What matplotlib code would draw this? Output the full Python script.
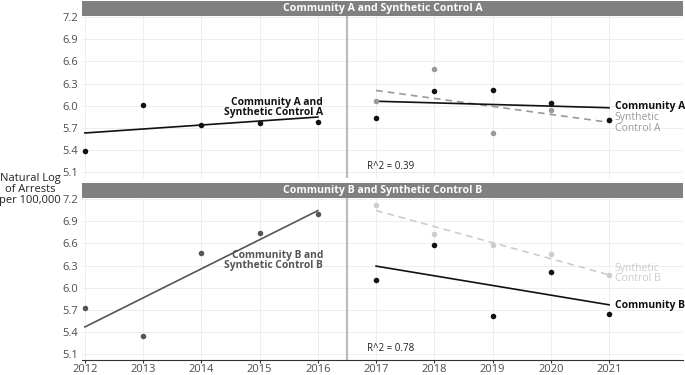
import numpy as np
import matplotlib
matplotlib.use("Agg")
import matplotlib.pyplot as plt
from matplotlib.patches import Rectangle

plt.rcParams['font.family'] = ['Open Sans', 'DejaVu Sans']

years_pre = [2012, 2013, 2014, 2015, 2016]
years_post = [2017, 2018, 2019, 2020, 2021]
a_pre = [5.39, 6.01, 5.74, 5.77, 5.78]
a_comm_post = [5.83, 6.20, 6.21, 6.04, 5.80]
a_synth_post = [6.07, 6.50, 5.63, 5.94, 5.81]
b_pre = [5.73, 5.34, 6.47, 6.74, 7.00]
b_comm_post = [6.11, 6.58, 5.61, 6.21, 5.64]
b_synth_post = [7.12, 6.73, 6.58, 6.45, 6.17]
r2_labels = ["R^2 = 0.39", "R^2 = 0.78"]
strip_titles = ["Community A and Synthetic Control A", "Community B and Synthetic Control B"]
yticks = [5.1, 5.4, 5.7, 6.0, 6.3, 6.6, 6.9, 7.2]

W, H = 685, 375
fig = plt.figure(figsize=(W / 100, H / 100), dpi=100)

left, right = 82 / W, 683 / W
panels = [(16, 178, 1), (198, 360, 182.5)]  # top px, bottom px, strip top px

def fit(x, y):
    x = np.asarray(x, float); y = np.asarray(y, float)
    k, b = np.polyfit(x, y, 1)
    return x, k * x + b

axes = []
for (tp, bp, st) in panels:
    ax = fig.add_axes([left, 1 - bp / H, right - left, (bp - tp) / H])
    ax.set_xlim(2011.95, 2022.27)
    ax.set_ylim(5.02, 7.215)
    ax.set_yticks(yticks)
    ax.set_yticklabels([f"{v:.1f}" for v in yticks])
    ax.set_xticks(years_pre + years_post)
    ax.grid(True, color='#ebebeb', lw=0.6)
    ax.set_axisbelow(True)
    for s in ax.spines.values():
        s.set_visible(False)
    ax.tick_params(axis='y', length=0, labelsize=8, labelcolor='#4d4d4d', pad=3)
    ax.tick_params(axis='x', length=2, labelsize=8, labelcolor='#4d4d4d', color='#333333', pad=1)
    ax.axvline(2016.5, color='#bdbdbd', lw=1.6, zorder=1)
    fig.patches.append(Rectangle((left, 1 - tp / H), right - left, (tp - st) / H,
                                 transform=fig.transFigure, facecolor='#808080',
                                 edgecolor='none', zorder=0))
    axes.append(ax)

titles_y = [(1 + 16) / 2, (182.5 + 198) / 2]
for t, yy in zip(strip_titles, titles_y):
    fig.text((left + right) / 2, 1 - yy / H, t, ha='center', va='center',
             color='white', fontweight='bold', fontsize=7.6)

ax1, ax2 = axes
ax1.tick_params(axis='x', labelbottom=False, length=0)
ax2.spines['bottom'].set_visible(True)
ax2.spines['bottom'].set_color('#333333')
ax2.spines['bottom'].set_linewidth(0.8)

ms = 4.0
# Top panel
x, y = fit(years_pre, a_pre)
ax1.plot(x, y, color='#111111', lw=1.2, zorder=3)
ax1.plot(years_pre, a_pre, 'o', color='#111111', ms=ms, mec='none', zorder=4)
x, y = fit(years_post, a_synth_post)
ax1.plot(x, y, color='#999999', lw=1.2, ls=(0, (4, 3)), zorder=3)
ax1.plot(years_post, a_synth_post, 'o', color='#999999', ms=ms, mec='none', zorder=4)
x, y = fit(years_post, a_comm_post)
ax1.plot(x, y, color='#111111', lw=1.2, zorder=3)
ax1.plot(years_post, a_comm_post, 'o', color='#111111', ms=ms, mec='none', zorder=4)

ax1.text(2016.09, 5.975, "Community A and\nSynthetic Control A", ha='right', va='center',
         fontsize=7.4, fontweight='bold', color='#111111', linespacing=0.95)
ax1.text(2021.1, 5.99, "Community A", ha='left', va='center', fontsize=7.5,
         fontweight='bold', color='#111111')
ax1.text(2021.1, 5.765, "Synthetic\nControl A", ha='left', va='center', fontsize=7.5,
         color='#999999', linespacing=0.95)
ax1.text(2016.84, 5.18, r2_labels[0], ha='left', va='center', fontsize=7, color='#222222')

# Bottom panel
x, y = fit(years_pre, b_pre)
ax2.plot(x, y, color='#555555', lw=1.2, zorder=3)
ax2.plot(years_pre, b_pre, 'o', color='#555555', ms=ms, mec='none', zorder=4)
x, y = fit(years_post, b_synth_post)
ax2.plot(x, y, color='#cccccc', lw=1.2, ls=(0, (4, 3)), zorder=3)
ax2.plot(years_post, b_synth_post, 'o', color='#cccccc', ms=ms, mec='none', zorder=4)
x, y = fit(years_post, b_comm_post)
ax2.plot(x, y, color='#111111', lw=1.2, zorder=3)
ax2.plot(years_post, b_comm_post, 'o', color='#111111', ms=ms, mec='none', zorder=4)

ax2.text(2016.09, 6.37, "Community B and\nSynthetic Control B", ha='right', va='center',
         fontsize=7.4, fontweight='bold', color='#555555', linespacing=0.95)
ax2.text(2021.1, 6.19, "Synthetic\nControl B", ha='left', va='center', fontsize=7.5,
         color='#cccccc', linespacing=0.95)
ax2.text(2021.1, 5.76, "Community B", ha='left', va='center', fontsize=7.5,
         fontweight='bold', color='#111111')
ax2.text(2016.84, 5.17, r2_labels[1], ha='left', va='center', fontsize=7, color='#222222')

fig.text(30 / W, 1 - 189 / H, "Natural Log\nof Arrests\nper 100,000", ha='center',
         va='center', fontsize=8, color='#222222', linespacing=1.0)

fig.savefig("out.png", dpi=100)
